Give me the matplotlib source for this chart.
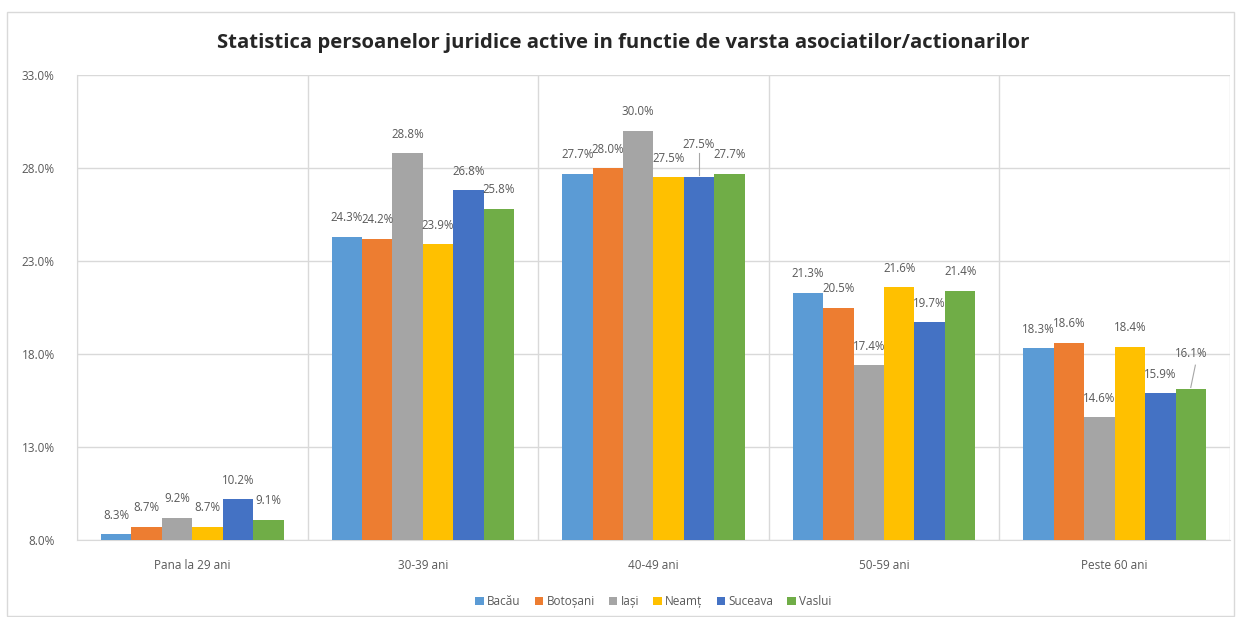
import matplotlib
matplotlib.use("Agg")
import matplotlib.pyplot as plt
from matplotlib.patches import Rectangle
from matplotlib.ticker import FuncFormatter
import numpy as np

# date
categorii = ["Pana la 29 ani", "30-39 ani", "40-49 ani", "50-59 ani", "Peste 60 ani"]
judete = ["Bacău", "Botoșani", "Iași", "Neamț", "Suceava", "Vaslui"]
bacau = [8.3, 24.3, 27.7, 21.3, 18.3]
botosani = [8.7, 24.2, 28.0, 20.5, 18.6]
iasi = [9.2, 28.8, 30.0, 17.4, 14.6]
neamt = [8.7, 23.9, 27.5, 21.6, 18.4]
suceava = [10.2, 26.8, 27.5, 19.7, 15.9]
vaslui = [9.1, 25.8, 27.7, 21.4, 16.1]
serii = [bacau, botosani, iasi, neamt, suceava, vaslui]
culori = ["#5B9BD5", "#ED7D31", "#A5A5A5", "#FFC000", "#4472C4", "#70AD47"]

plt.rcParams["font.family"] = ["Open Sans", "DejaVu Sans"]

fig = plt.figure(figsize=(12.39, 6.17), dpi=100)
ax = fig.add_axes([0.0621, 0.1248, 0.9306, 0.7536])

# chenar grafic
fig.patches.append(Rectangle((7 / 1239, 0.002), 1227 / 1239, 1 - 12 / 617 - 0.002,
                             transform=fig.transFigure, fill=False,
                             edgecolor="#d9d9d9", lw=1))

x = np.arange(len(categorii))
w = 0.132
# deplasari speciale ale etichetelor (cu linie de legatura)
extra = {(4, 2): 10, (5, 4): 12}

for i, (s, c) in enumerate(zip(serii, culori)):
    pos = x + (i - 2.5) * w
    ax.bar(pos, [v - 8 for v in s], w, bottom=8, color=c, label=judete[i], zorder=3)
    for j, v in enumerate(s):
        dy = 9 + extra.get((i, j), 0)
        ax.annotate(f"{v:.1f}%", (pos[j], v), xytext=(0, dy), textcoords="offset points",
                    ha="center", va="bottom", fontsize=8.3, color="#595959", zorder=4)
        if (i, j) in extra:
            ax.plot([pos[j], pos[j] + (0.02 if i == 5 else 0)], [v + 0.1, v + 1.3],
                    color="#a6a6a6", lw=0.8, zorder=4)

ax.set_xlim(-0.5, 4.5)
ax.set_ylim(8, 33)
ax.set_yticks([8, 13, 18, 23, 28, 33])
ax.yaxis.set_major_formatter(FuncFormatter(lambda v, p: f"{v:.1f}%"))
ax.set_xticks(x)
ax.set_xticklabels(categorii)
ax.set_xticks(np.arange(-0.5, 5, 1), minor=True)
ax.grid(axis="y", color="#d9d9d9", lw=1, zorder=0)
ax.grid(axis="x", which="minor", color="#d9d9d9", lw=1, zorder=0)
ax.tick_params(axis="both", which="both", length=0, labelsize=8.5, labelcolor="#595959")
ax.tick_params(axis="y", pad=16)
ax.tick_params(axis="x", pad=14)
for sp in ["top", "right"]:
    ax.spines[sp].set_visible(False)
ax.spines["left"].set_color("#d9d9d9")
ax.spines["bottom"].set_color("#d9d9d9")

fig.text(0.503, 0.930, "Statistica persoanelor juridice active in functie de varsta asociatilor/actionarilor",
         ha="center", va="center", fontsize=14.6, fontweight="bold", color="#262626")

ax.legend(loc="upper center", bbox_to_anchor=(0.5, -0.095), ncol=6, frameon=False,
          fontsize=8.5, handlelength=0.7, handleheight=0.7, handletextpad=0.3,
          columnspacing=1.2, labelcolor="#595959")

fig.savefig("out.png", dpi=100)
